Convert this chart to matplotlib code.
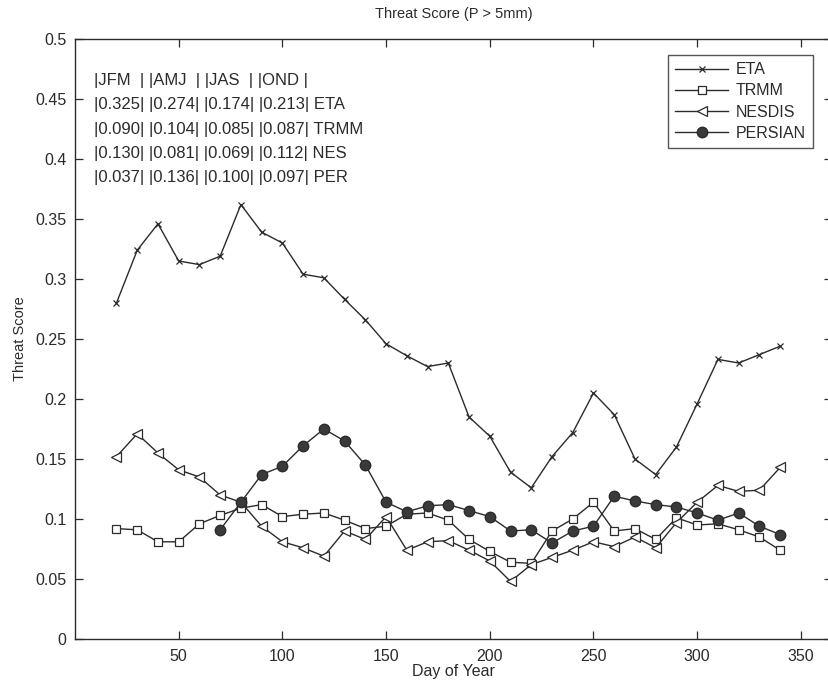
import numpy as np
import matplotlib
matplotlib.use("Agg")
from matplotlib import pyplot as plt

plt.rcParams['font.family'] = ['Liberation Sans', 'DejaVu Sans']

# day of year, one value every 10 days
days = np.arange(20, 341, 10)

eta = [0.280, 0.324, 0.346, 0.315, 0.312, 0.319, 0.362, 0.339, 0.330, 0.304,
       0.301, 0.283, 0.266, 0.246, 0.236, 0.227, 0.230, 0.185, 0.169, 0.139,
       0.126, 0.152, 0.172, 0.205, 0.187, 0.150, 0.137, 0.160, 0.196, 0.233,
       0.230, 0.237, 0.244]
trmm = [0.092, 0.091, 0.081, 0.081, 0.096, 0.103, 0.109, 0.112, 0.102, 0.104,
        0.105, 0.099, 0.092, 0.094, 0.104, 0.105, 0.099, 0.083, 0.073, 0.064,
        0.063, 0.090, 0.100, 0.114, 0.090, 0.092, 0.083, 0.101, 0.095, 0.096,
        0.091, 0.085, 0.074]
nesdis = [0.152, 0.171, 0.155, 0.141, 0.135, 0.120, 0.114, 0.094, 0.081, 0.076,
          0.069, 0.090, 0.083, 0.102, 0.074, 0.081, 0.082, 0.074, 0.065, 0.048,
          0.062, 0.068, 0.074, 0.081, 0.077, 0.085, 0.076, 0.097, 0.114, 0.128,
          0.123, 0.124, 0.143]
persian = [np.nan, np.nan, np.nan, np.nan, np.nan,
           0.091, 0.114, 0.137, 0.144, 0.161, 0.175, 0.165, 0.145, 0.114, 0.106,
           0.111, 0.112, 0.107, 0.102, 0.090, 0.091, 0.080, 0.090, 0.094, 0.119,
           0.115, 0.112, 0.110, 0.105, 0.099, 0.105, 0.094, 0.087]

table_lines = ["|JFM  | |AMJ  | |JAS  | |OND |",
               "|0.325| |0.274| |0.174| |0.213| ETA",
               "|0.090| |0.104| |0.085| |0.087| TRMM",
               "|0.130| |0.081| |0.069| |0.112| NES",
               "|0.037| |0.136| |0.100| |0.097| PER"]

ink = '#2b2b2b'

fig = plt.figure(figsize=(8.29, 6.82), dpi=100)
ax = fig.add_axes([75 / 829, 43 / 682, 757 / 829, 600 / 682])

ax.plot(days, eta, color=ink, lw=1.0, marker='x', ms=5, mew=0.9, label='ETA')
ax.plot(days, trmm, color=ink, lw=1.0, marker='s', ms=6, mfc='white', mew=0.9, label='TRMM')
ax.plot(days, nesdis, color=ink, lw=1.0, marker='<', ms=7, mfc='white', mew=0.9, label='NESDIS')
ax.plot(days, persian, color=ink, lw=1.0, marker='o', ms=7.5, mfc='#3a3a3a', mec=ink, label='PERSIAN')

ax.set_xlim(0, 365)
ax.set_ylim(0, 0.5)
ax.set_xticks(np.arange(50, 351, 50))
ax.set_yticks(np.arange(0, 0.501, 0.05))
ax.set_yticklabels(['0', '0.05', '0.1', '0.15', '0.2', '0.25', '0.3', '0.35', '0.4', '0.45', '0.5'])
ax.tick_params(direction='in', top=True, right=True, length=6, width=0.9,
               labelsize=11.5, colors=ink)
ax.tick_params(axis='x', pad=7)
ax.tick_params(axis='y', pad=6)
for s in ax.spines.values():
    s.set_linewidth(1.0)
    s.set_color(ink)

ax.set_title('Threat Score (P > 5mm)', fontsize=10.5, color=ink, pad=15)
ax.set_xlabel('Day of Year', fontsize=11.5, color=ink, labelpad=0)
ax.set_ylabel('Threat Score', fontsize=10.5, color=ink, labelpad=6)

for i, line in enumerate(table_lines):
    ax.text(9, 0.4655 - i * 0.0203, line, fontsize=12, color=ink, va='center', ha='left')

leg = ax.legend(loc='upper right', bbox_to_anchor=(0.975, 0.973), borderaxespad=0,
                fancybox=False, edgecolor=ink, fontsize=11.5, handlelength=3.3,
                labelspacing=0.38, borderpad=0.45, handletextpad=0.5)
leg.get_frame().set_linewidth(1.0)
for t in leg.get_texts():
    t.set_color(ink)

fig.savefig('out.png', dpi=100, facecolor='white')
